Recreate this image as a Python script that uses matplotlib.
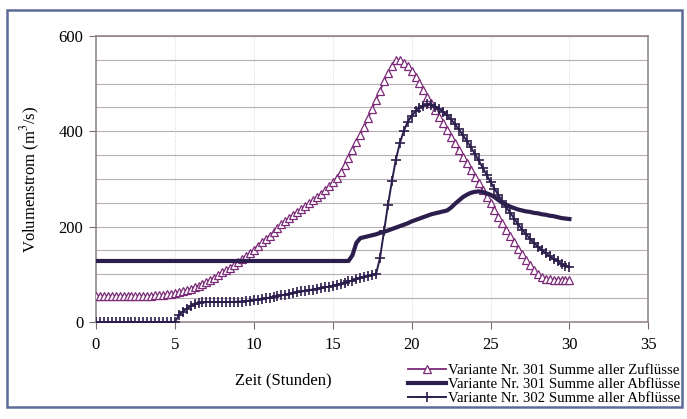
import numpy as np
import matplotlib
matplotlib.use('Agg')
import matplotlib.pyplot as plt
from matplotlib.patches import Rectangle

# time in hours, quarter-hour steps
zeit = np.arange(0, 30.25, 0.25)

# Variante Nr. 301 Summe aller Zufluesse, one row per hour (4 values)
zufluss_301 = [
    55, 55, 55, 55,
    55, 55, 55, 55,
    55, 55, 55, 55,
    55, 55, 55, 56,
    57, 57, 58, 59,
    60, 62, 64, 67,
    70, 73, 76, 80,
    84, 88, 93, 98,
    104, 109, 114, 120,
    126, 132, 138, 145,
    152, 160, 167, 174,
    181, 189, 197, 205,
    212, 219, 225, 231,
    237, 243, 249, 256,
    262, 269, 277, 285,
    293, 303, 315, 330,
    345, 360, 377, 393,
    410, 428, 447, 466,
    485, 505, 522, 538,
    550, 549, 544, 536,
    526, 514, 501, 487,
    473, 459, 445, 431,
    417, 403, 389, 375,
    361, 347, 333, 319,
    305, 291, 277, 263,
    249, 235, 221, 207,
    193, 180, 167, 154,
    142, 131, 120, 110,
    101, 95, 91, 90,
    89, 89, 89, 89,
    89,
]

# Variante Nr. 301 Summe aller Abfluesse
abfluss_301 = [
    128, 128, 128, 128,
    128, 128, 128, 128,
    128, 128, 128, 128,
    128, 128, 128, 128,
    128, 128, 128, 128,
    128, 128, 128, 128,
    128, 128, 128, 128,
    128, 128, 128, 128,
    128, 128, 128, 128,
    128, 128, 128, 128,
    128, 128, 128, 128,
    128, 128, 128, 128,
    128, 128, 128, 128,
    128, 128, 128, 128,
    128, 128, 128, 128,
    128, 128, 128, 128,
    128, 140, 166, 176,
    178, 180, 182, 184,
    187, 189, 192, 195,
    198, 201, 204, 207,
    211, 214, 217, 220,
    223, 226, 228, 230,
    232, 234, 240, 248,
    255, 262, 267, 271,
    273, 274, 273, 270,
    267, 262, 256, 250,
    246, 242, 239, 236,
    234, 232, 231, 229,
    228, 226, 225, 223,
    222, 220, 218, 217,
    216,
]

# Variante Nr. 302 Summe aller Abfluesse
abfluss_302 = [
    0, 0, 0, 0,
    0, 0, 0, 0,
    0, 0, 0, 0,
    0, 0, 0, 0,
    0, 0, 0, 0,
    0, 14, 22, 28,
    33, 37, 39, 41,
    42, 42, 42, 42,
    42, 42, 42, 42,
    43, 43, 44, 45,
    46, 47, 48, 50,
    51, 53, 54, 56,
    57, 59, 61, 62,
    64, 65, 67, 68,
    70, 71, 73, 74,
    76, 78, 80, 82,
    85, 87, 90, 93,
    95, 97, 99, 101,
    135, 190, 245, 295,
    340, 375, 400, 420,
    432, 442, 449, 454,
    457, 456, 452, 447,
    441, 434, 425, 415,
    404, 392, 380, 367,
    353, 339, 324, 309,
    294, 280, 266, 253,
    241, 229, 217, 205,
    194, 184, 175, 166,
    158, 151, 144, 138,
    132, 127, 122, 118,
    115,
]

labels = ['Variante Nr. 301 Summe aller Zuflüsse',
          'Variante Nr. 301 Summe aller Abflüsse',
          'Variante Nr. 302 Summe aller Abflüsse']

plt.rcParams['font.family'] = ['Liberation Serif', 'DejaVu Serif']
plt.rcParams['mathtext.fontset'] = 'stix'

fig = plt.figure(figsize=(6.87, 4.19), dpi=100)
ax = fig.add_axes([0.1397, 0.2315, 0.804, 0.6826])

purple = '#7b2a78'
navy = '#2b1d4c'

ax.plot(zeit, zufluss_301, color=purple, lw=1.3, marker='^', ms=5.5,
        mfc='white', mec=purple, mew=0.9, label=labels[0], zorder=3)
ax.plot(zeit, abfluss_301, color=navy, lw=3, label=labels[1], zorder=4)
ax.plot(zeit, abfluss_302, color=navy, lw=1.4, marker='+', ms=7,
        mew=1.2, label=labels[2], zorder=5)

ax.set_xlim(0, 35)
ax.set_ylim(0, 600)
ax.set_xticks(np.arange(0, 36, 5))
ax.set_yticks([0, 200, 400, 600])
ax.set_yticks(np.arange(0, 601, 50), minor=True)
ax.tick_params(axis='y', which='minor', length=0)
ax.tick_params(axis='both', which='major', length=5, direction='out',
               labelsize=12, color='#7a6c70', pad=4)
ax.tick_params(axis='x', pad=6)

ax.grid(axis='y', which='both', color='#b8aeb6', lw=0.8, ls='-')
ax.grid(axis='x', which='major', color='#d8d4d8', lw=0.7, ls=':')
ax.set_axisbelow(True)
for sp in ax.spines.values():
    sp.set_color('#8c8088')
    sp.set_linewidth(1.1)

ax.set_xlabel('Zeit (Stunden)', fontsize=12)
ax.xaxis.set_label_coords((283 - 96) / 552, -0.175)
ax.set_ylabel('Volumenstrom (m$^3$/s)', fontsize=12)
ax.yaxis.set_label_coords(-0.098, 0.5)

fig.legend(loc='upper right', bbox_to_anchor=(0.99, 0.132), frameon=False,
           fontsize=10.6, handlelength=2.6, handletextpad=0.15,
           labelspacing=0.05, borderaxespad=0, borderpad=0)

# outer chart border
fig.patches.append(Rectangle((7 / 687, 1 - 407 / 419), 675 / 687, 397 / 419,
                             transform=fig.transFigure, fill=False,
                             edgecolor='#5c6a98', lw=1.8))

fig.savefig('out.png', dpi=100)
